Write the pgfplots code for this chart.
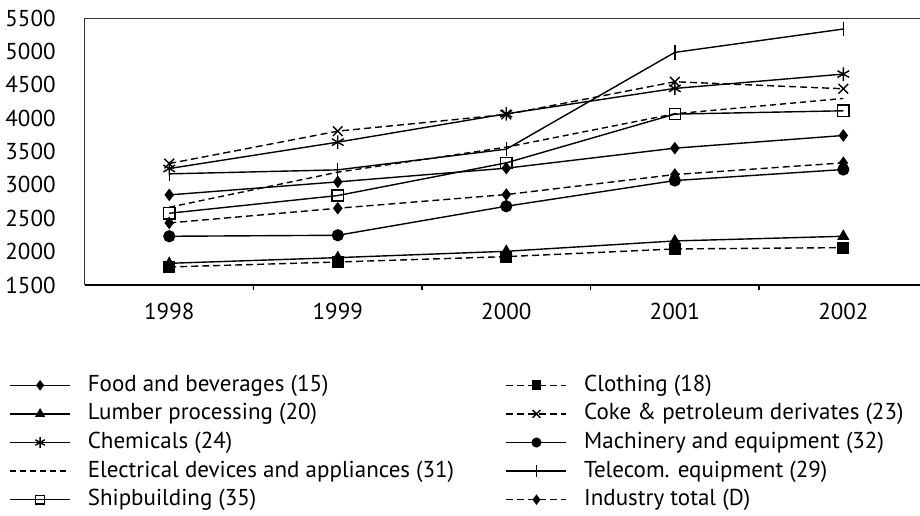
\documentclass[border=0pt]{standalone}
\usepackage{fontspec}
\setmainfont{PT Sans}
\usepackage{pgfplots}
\pgfplotsset{compat=1.18}
\begin{document}
\fontsize{11.5bp}{13bp}\selectfont
\begin{tikzpicture}
\begin{axis}[
  at={(0,0)}, anchor=south west,
  scale only axis, width=417.5bp, height=133.5bp,
  xmin=0.5, xmax=5.455, ymin=1500, ymax=5500,
  ytick={1500,2000,...,5500},
  xtick={1,...,5}, xticklabels={1998,1999,2000,2001,2002},
  minor xtick={1.5,2.5,3.5,4.5},
  xtick pos=left, ytick pos=left,
  tick align=outside,
  major tick length=0pt, minor tick length=2.5bp,
  tick style={black, line width=0.6bp},
  axis line style={draw=none},
  /pgf/number format/assume math mode=true,
  /pgf/number format/set thousands separator={},
  yticklabel style={inner sep=0pt, anchor=east},
  yticklabel shift=14.5bp,
  xticklabel style={inner sep=0pt, anchor=north},
  xticklabel shift=9bp,
  tick label style={font=\fontsize{11.5bp}{13bp}\selectfont},
  every axis plot/.append style={black, line width=0.7bp},
  legend columns=2,
  legend cell align=left,
  legend image code/.code={\draw[mark repeat=2,mark phase=2,#1,every mark/.append style={scale=0.8}] plot coordinates {(0bp,0bp) (15bp,0bp) (30bp,0bp)};},
  legend style={at={(axis description cs:0,0)}, anchor=north west, xshift=-38bp, yshift=-44.5bp,
    draw=none, fill=none, inner sep=0pt, row sep=3.4bp,
    font=\fontsize{11.5bp}{13bp}\selectfont,
    nodes={inner sep=0pt, text height=8.4bp, text depth=2.5bp},
    /tikz/every odd column/.append style={column sep=8.5bp},
    /tikz/every even column/.append style={column sep=0bp},
  },
  after end axis/.code={
    \draw[line width=0.5bp, black!80] (rel axis cs:0,0) -- (rel axis cs:0,1) -- (rel axis cs:1,1);
    \draw[line width=1.2bp, black] (rel axis cs:0,0) -- (rel axis cs:1,0);
  },
]
% Food and beverages (15)
\addplot[solid, mark=diamond*, mark size=2.6bp] coordinates {(1,2850) (2,3045) (3,3250) (4,3550) (5,3740)};
\addlegendentry{\makebox[209bp][l]{Food and beverages (15)}}
% Clothing (18)
\addplot[dash pattern=on 3.5bp off 2bp, mark=square*, mark size=2.6bp, mark options={solid}] coordinates {(1,1770) (2,1845) (3,1925) (4,2040) (5,2060)};
\addlegendentry{Clothing (18)}
% Lumber processing (20)
\addplot[solid, mark=triangle*, mark size=2.8bp] coordinates {(1,1825) (2,1910) (3,2005) (4,2160) (5,2230)};
\addlegendentry{\makebox[209bp][l]{Lumber processing (20)}}
% Coke & petroleum derivates (23)
\addplot[dash pattern=on 3.5bp off 2bp, mark=x, mark size=3.4bp, mark options={solid}] coordinates {(1,3320) (2,3805) (3,4055) (4,4545) (5,4440)};
\addlegendentry{Coke \& petroleum derivates (23)}
% Chemicals (24)
\addplot[solid, mark=asterisk, mark size=3.4bp] coordinates {(1,3245) (2,3640) (3,4065) (4,4445) (5,4660)};
\addlegendentry{\makebox[209bp][l]{Chemicals (24)}}
% Machinery and equipment (32)
\addplot[solid, mark=*, mark size=2.7bp] coordinates {(1,2230) (2,2245) (3,2680) (4,3065) (5,3230)};
\addlegendentry{Machinery and equipment (32)}
% Electrical devices and appliances (31)
\addplot[dash pattern=on 3bp off 2bp, no marks] coordinates {(1,2665) (2,3190) (3,3565) (4,4065) (5,4295)};
\addlegendentry{\makebox[209bp][l]{Electrical devices and appliances (31)}}
% Telecom. equipment (29)
\addplot[solid, mark=|, mark size=3.6bp] coordinates {(1,3165) (2,3225) (3,3535) (4,4985) (5,5335)};
\addlegendentry{Telecom. equipment (29)}
% Shipbuilding (35)
\addplot[solid, mark=square, mark size=2.8bp, mark options={fill=white}] coordinates {(1,2575) (2,2840) (3,3330) (4,4060) (5,4110)};
\addlegendentry{\makebox[209bp][l]{Shipbuilding (35)}}
% Industry total (D)
\addplot[dash pattern=on 3.5bp off 2bp, mark=diamond*, mark size=2.6bp, mark options={solid}] coordinates {(1,2430) (2,2650) (3,2855) (4,3155) (5,3330)};
\addlegendentry{Industry total (D)}
\end{axis}
\pgfresetboundingbox
\path (-42.5bp,-115.5bp) rectangle (417.5bp,142.5bp);
\end{tikzpicture}
\end{document}
